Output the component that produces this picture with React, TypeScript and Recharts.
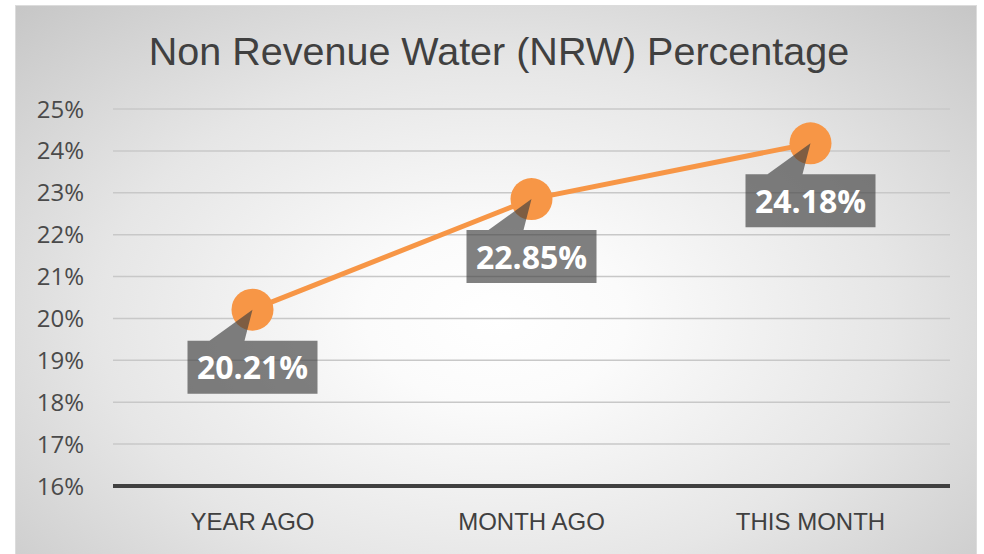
import { LineChart, Line, XAxis, YAxis, CartesianGrid } from 'recharts';

const categories = ['YEAR AGO', 'MONTH AGO', 'THIS MONTH'];
const nrwValues = [20.21, 22.85, 24.18];
const yTicks = [16, 17, 18, 19, 20, 21, 22, 23, 24, 25];

const data = categories.map((name, i) => ({ name, nrw: nrwValues[i] }));

const ORANGE = '#F79646';
const TEXT = '#404040';

function CalloutDot(props: any) {
  const { cx, cy, value, index } = props;
  if (cx == null || cy == null) return null;
  const top = cy + 31;
  const bottom = cy + 84;
  const d = `M ${cx - 65} ${top} L ${cx - 43} ${top} L ${cx} ${cy} L ${cx - 8} ${top} L ${cx + 65} ${top} L ${cx + 65} ${bottom} L ${cx - 65} ${bottom} Z`;
  return (
    <g key={`dot-${index}`}>
      <circle cx={cx} cy={cy} r={21} fill={ORANGE} />
      <path d={d} fill="#404040" fillOpacity={0.66} />
      <text
        x={cx}
        y={cy + 57}
        textAnchor="middle"
        dominantBaseline="central"
        fill="#ffffff"
        fontFamily="'Open Sans', sans-serif"
        fontWeight={700}
        fontSize={32}
      >
        {`${Number(value).toFixed(2)}%`}
      </text>
    </g>
  );
}

export default function App() {
  return (
    <div
      style={{
        position: 'absolute',
        left: 15,
        top: 5,
        width: 962,
        height: 549,
        boxSizing: 'border-box',
        borderTop: '1px solid #dcdcdc',
        borderLeft: '1px solid #dcdcdc',
        borderRight: '1px solid #dcdcdc',
        background:
          'radial-gradient(ellipse 75% 85% at 50% 57%, #ffffff 0%, #fbfbfb 18%, #e6e6e6 55%, #c2c2c2 100%)',
        overflow: 'hidden',
      }}
    >
      <div
        style={{
          position: 'absolute',
          left: 0,
          top: 23,
          width: 966,
          textAlign: 'center',
          fontFamily: "'Liberation Sans', Arial, sans-serif",
          fontSize: 39.5,
          lineHeight: '44px',
          color: TEXT,
        }}
      >
        Non Revenue Water (NRW) Percentage
      </div>
      <LineChart
        width={962}
        height={549}
        data={data}
        margin={{ top: 104, right: 27, bottom: 0, left: 0 }}
        style={{ position: 'absolute', left: -1, top: -1 }}
      >
        <CartesianGrid vertical={false} stroke="#c8c8c8" strokeWidth={1.5} />
        <XAxis
          dataKey="name"
          height={68}
          padding={{ left: 139.5, right: 139.5 }}
          axisLine={{ stroke: TEXT, strokeWidth: 4 }}
          tickLine={false}
          tickSize={0}
          tickMargin={27}
          tick={{ fill: TEXT, fontSize: 24, fontFamily: "'Liberation Sans', Arial, sans-serif" }}
        />
        <YAxis
          width={98}
          domain={[16, 25]}
          ticks={yTicks}
          interval={0}
          axisLine={false}
          tickLine={false}
          tickSize={0}
          tickMargin={29}
          tickFormatter={(v) => `${v}%`}
          tick={{ fill: '#4a4a4a', fontSize: 24, fontFamily: "'Open Sans', sans-serif" }}
        />
        <Line
          type="linear"
          dataKey="nrw"
          stroke={ORANGE}
          strokeWidth={5}
          dot={CalloutDot}
          activeDot={false}
          isAnimationActive={false}
        />
      </LineChart>
    </div>
  );
}
